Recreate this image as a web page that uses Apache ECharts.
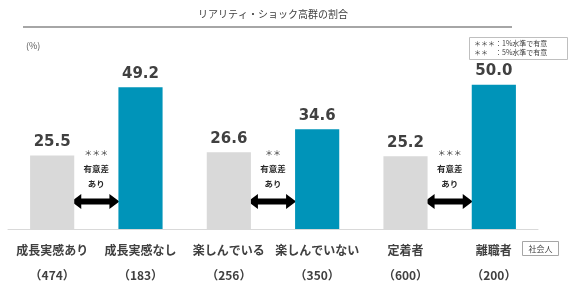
<!DOCTYPE html>
<html>
<head>
<meta charset="utf-8">
<script src="https://cdn.jsdelivr.net/npm/echarts@6/dist/echarts.min.js"></script>
<style>
html,body{margin:0;padding:0;background:#fff;}
#c{width:572px;height:291px;}
</style>
</head>
<body>
<div id="c"></div>
<script>
var categories = ['成長実感あり','成長実感なし','楽しんでいる','楽しんでいない','定着者','離職者'];
var counts = ['474','183','256','350','600','200'];
var values = [25.5, 49.2, 26.6, 34.6, 25.2, 50.0];
var sigMarks = ['＊＊＊','＊＊','＊＊＊'];
var sigText = ['有意差','あり'];
var titleText = 'リアリティ・ショック高群の割合';
var unitText = '(%)';
var legendLines = ['＊＊＊：1%水準で有意','＊＊　：5%水準で有意'];
var groupTag = '社会人';

var FONT = '"Noto Sans CJK JP", "Noto Sans", sans-serif';
var GRAY = '#d9d9d9', TEAL = '#0094b9', TXT = '#404040';

var chart = echarts.init(document.getElementById('c'));
var option = {
  animation: false,
  textStyle: {fontFamily: FONT},
  grid: {left: 8, right: 34, top: 56, bottom: 62},
  xAxis: {
    type: 'category',
    data: categories.map(function(c, i){ return c + '\n（' + counts[i] + '）'; }),
    axisLine: {lineStyle: {color: '#d9d9d9', width: 1}},
    axisTick: {show: false},
    axisLabel: {color: TXT, fontSize: 12, fontWeight: 'bold', lineHeight: 25, margin: 9, interval: 0, fontFamily: FONT}
  },
  yAxis: {type: 'value', min: 0, max: 60, show: false, splitLine: {show: false}},
  series: [{
    type: 'bar',
    data: values,
    barWidth: '50%',
    itemStyle: {color: function(p){ return p.dataIndex % 2 ? TEAL : GRAY; }},
    label: {show: true, position: 'top', distance: 6, color: TXT, fontSize: 15, fontWeight: 'bold',
      fontFamily: 'Verdana, "DejaVu Sans", sans-serif',
      formatter: function(p){ return p.value.toFixed(1); }}
  }]
};
chart.setOption(option);

var g = [];
g.push({type: 'text', x: 273, y: 14, style: {text: titleText, fill: TXT, font: '10px ' + FONT, align: 'center', verticalAlign: 'middle'}});
g.push({type: 'line', shape: {x1: 23, y1: 27, x2: 512, y2: 27}, style: {stroke: '#a6a6a6', lineWidth: 2}});
g.push({type: 'text', x: 26, y: 41, style: {text: unitText, fill: '#595959', font: '9px ' + FONT}});
g.push({type: 'rect', shape: {x: 469.5, y: 37.5, width: 98, height: 22}, style: {fill: '#fff', stroke: '#bfbfbf', lineWidth: 1}});
g.push({type: 'text', x: 474, y: 40, style: {text: legendLines[0], fill: '#404040', font: '7px ' + FONT}});
g.push({type: 'text', x: 474, y: 49, style: {text: legendLines[1], fill: '#404040', font: '7px ' + FONT}});
g.push({type: 'rect', shape: {x: 522.5, y: 241.5, width: 36, height: 14}, style: {fill: '#fff', stroke: '#a6a6a6', lineWidth: 1}});
g.push({type: 'text', x: 540.5, y: 248.5, style: {text: groupTag, fill: '#404040', font: '8px ' + FONT, align: 'center', verticalAlign: 'middle'}});

var band = (572 - 8 - 34) / categories.length;
var bw = band * 0.5;
for (var k = 0; k < sigMarks.length; k++) {
  var c0 = chart.convertToPixel({xAxisIndex: 0}, 2 * k);
  var c1 = chart.convertToPixel({xAxisIndex: 0}, 2 * k + 1);
  var mid = (c0 + c1) / 2;
  var x0 = c0 + bw / 2 - 3, x1 = c1 - bw / 2 + 1, y = 201.5;
  g.push({type: 'text', x: mid, y: 153, style: {text: sigMarks[k], fill: '#404040', font: '8px ' + FONT, align: 'center', verticalAlign: 'middle'}});
  g.push({type: 'text', x: mid, y: 169, style: {text: sigText[0], fill: '#262626', font: 'bold 8.5px ' + FONT, align: 'center', verticalAlign: 'middle'}});
  g.push({type: 'text', x: mid, y: 184, style: {text: sigText[1], fill: '#262626', font: 'bold 8.5px ' + FONT, align: 'center', verticalAlign: 'middle'}});
  g.push({type: 'polygon', shape: {points: [
    [x0, y], [x0 + 10, y - 7.5], [x0 + 10, y - 3], [x1 - 10, y - 3], [x1 - 10, y - 7.5],
    [x1, y], [x1 - 10, y + 7.5], [x1 - 10, y + 3], [x0 + 10, y + 3], [x0 + 10, y + 7.5]
  ]}, style: {fill: '#000'}});
}
chart.setOption({graphic: g});
</script>
</body>
</html>
